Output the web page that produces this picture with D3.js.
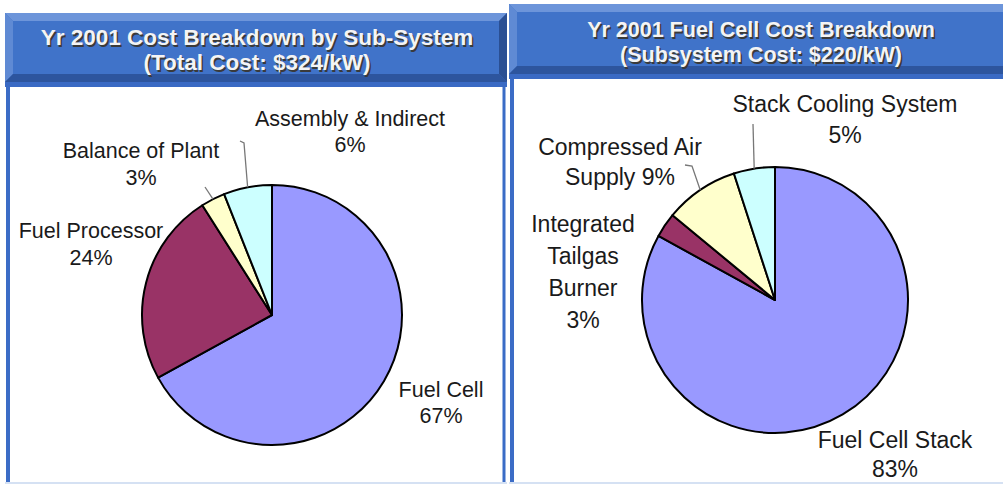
<!DOCTYPE html>
<html>
<head>
<meta charset="utf-8">
<script src="https://cdn.jsdelivr.net/npm/d3@7"></script>
<style>
  body { margin: 0; background: #fff; }
  svg { display: block; font-family: "Liberation Sans", Arial, sans-serif; }
</style>
</head>
<body>
<svg id="chart"></svg>
<script>
const width = 1003, height = 484;

// chart 1: sub-system breakdown
const subTitle = ["Yr 2001 Cost Breakdown by Sub-System", "(Total Cost: $324/kW)"];
const subCategories = ["Fuel Cell", "Fuel Processor", "Balance of Plant", "Assembly & Indirect"];
const subValues = [67, 24, 3, 6];

// chart 2: fuel cell breakdown
const fcTitle = ["Yr 2001 Fuel Cell Cost Breakdown", "(Subsystem Cost: $220/kW)"];
const fcCategories = ["Fuel Cell Stack", "Integrated Tailgas Burner", "Compressed Air Supply", "Stack Cooling System"];
const fcValues = [83, 3, 9, 5];

const sliceColors = ["#9999ff", "#993366", "#ffffcc", "#ccffff"];

const svg = d3.select("#chart")
    .attr("width", width)
    .attr("height", height);

svg.append("rect").attr("width", width).attr("height", height).attr("fill", "#fff");

// panel frame + bevelled header
function drawPanel(p) {
    const g = svg.append("g");
    // body border
    g.append("line").attr("x1", p.x + 3).attr("x2", p.x + 3).attr("y1", p.y).attr("y2", p.bottom)
        .attr("stroke", "#3b6cc6").attr("stroke-width", 4);
    g.append("line").attr("x1", p.x + p.w - 3).attr("x2", p.x + p.w - 3).attr("y1", p.y).attr("y2", p.bottom)
        .attr("stroke", "#3b6cc6").attr("stroke-width", 3);
    g.append("line").attr("x1", p.x).attr("x2", p.x + p.w).attr("y1", p.bottom - 1).attr("y2", p.bottom - 1)
        .attr("stroke", "#d5e1f3").attr("stroke-width", 2);
    // strip under header
    g.append("rect").attr("x", p.x).attr("y", p.y + p.h).attr("width", p.w).attr("height", 5).attr("fill", "#3a6ac4");

    const b = 8, x0 = p.x, y0 = p.y, x1 = p.x + p.w, y1 = p.y + p.h;
    const poly = (pts, fill) => g.append("polygon").attr("points", pts.map(d => d.join(",")).join(" ")).attr("fill", fill);
    poly([[x0, y0], [x1, y0], [x1, y1], [x0, y1]], "#4073c9");
    poly([[x0, y0], [x1, y0], [x1 - b, y0 + b], [x0 + b, y0 + b]], "#6d95da");
    poly([[x0, y0], [x0 + b, y0 + b], [x0 + b, y1 - b], [x0, y1]], "#5f8ad4");
    poly([[x0, y1], [x0 + b, y1 - b], [x1 - b, y1 - b], [x1, y1]], "#2d559e");
    poly([[x1, y0], [x1, y1], [x1 - b, y1 - b], [x1 - b, y0 + b]], "#2a4f93");

    p.title.forEach((t, i) => {
        g.append("text").attr("x", p.cx + 1.5).attr("y", p.base[i] + 1.5)
            .attr("text-anchor", "middle").attr("font-weight", "bold").attr("font-size", p.fs)
            .attr("fill", "#3a3a3a").text(t);
        g.append("text").attr("x", p.cx).attr("y", p.base[i])
            .attr("text-anchor", "middle").attr("font-weight", "bold").attr("font-size", p.fs)
            .attr("fill", "#f4f4f4").text(t);
    });
}

drawPanel({x: 5, y: 13, w: 502, h: 69, bottom: 484, cx: 257, base: [45, 70], fs: 22.5, title: subTitle});
drawPanel({x: 509, y: 4, w: 502, h: 70, bottom: 484, cx: 761, base: [37, 62], fs: 21.5, title: fcTitle});

const pie = d3.pie().sort(null).value(d => d);

function drawPie(values, cx, cy, r, labels, fs) {
    const arcs = pie(values);
    const arc = d3.arc().innerRadius(0).outerRadius(r);
    const g = svg.append("g").attr("transform", `translate(${cx},${cy})`);
    g.selectAll("path").data(arcs).join("path")
        .attr("d", arc)
        .attr("fill", (d, i) => sliceColors[i])
        .attr("stroke", "#000")
        .attr("stroke-width", 2)
        .attr("stroke-linejoin", "round");

    labels.forEach((lab, i) => {
        const a = arcs[i];
        if (lab.leader) {
            const mid = (a.startAngle + a.endAngle) / 2;
            const end = [cx + r * Math.sin(mid), cy - r * Math.cos(mid)];
            svg.append("polyline")
                .attr("points", lab.leader.concat([end]).map(d => d.join(",")).join(" "))
                .attr("fill", "none").attr("stroke", "#777").attr("stroke-width", 1.3);
        }
        const t = svg.append("text").attr("text-anchor", "middle").attr("font-size", fs).attr("fill", "#1a1a1a");
        lab.lines.forEach((ln, j) => {
            t.append("tspan").attr("x", lab.x).attr("y", lab.y + j * lab.dy).text(ln);
        });
    });
}

drawPie(subValues, 272, 315, 130, [
    {lines: [subCategories[0], subValues[0] + "%"], x: 441, y: 397, dy: 26},
    {lines: [subCategories[1], subValues[1] + "%"], x: 91, y: 238, dy: 27},
    {lines: [subCategories[2], subValues[2] + "%"], x: 141, y: 158, dy: 27, leader: [[205, 187]]},
    {lines: [subCategories[3], subValues[3] + "%"], x: 350, y: 126, dy: 26, leader: [[240, 141], [244, 143]]}
], 21.5);

drawPie(fcValues, 775, 300, 133, [
    {lines: [fcCategories[0], fcValues[0] + "%"], x: 895, y: 448, dy: 29},
    {lines: ["Integrated", "Tailgas", "Burner", fcValues[1] + "%"], x: 583, y: 232, dy: 32},
    {lines: ["Compressed Air", "Supply " + fcValues[2] + "%"], x: 620, y: 155, dy: 30, leader: [[685, 165], [692, 166]]},
    {lines: [fcCategories[3], fcValues[3] + "%"], x: 845, y: 112, dy: 31, leader: [[753, 124]]}
], 23);
</script>
</body>
</html>
